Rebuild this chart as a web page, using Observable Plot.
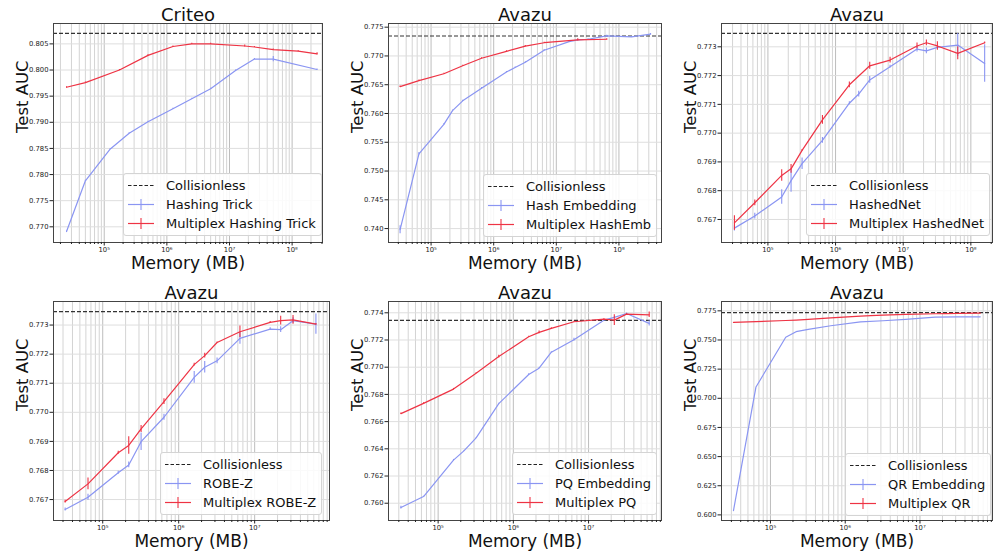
<!DOCTYPE html>
<html><head><meta charset="utf-8">
<script src="https://cdn.jsdelivr.net/npm/d3@7"></script>
<script src="https://cdn.jsdelivr.net/npm/@observablehq/plot@0.6"></script>
<style>
body{margin:0;background:#fff;font-family:"DejaVu Sans",sans-serif;}
#wrap{position:relative;width:994px;height:554px;overflow:hidden;background:#fff;}
.panel{position:absolute;}
.legend{position:absolute;background:rgba(255,255,255,0.85);border:1px solid #d4d4d4;border-radius:3px;padding:2px 5px 2px 4px;font-size:13px;color:#111;}
.row{display:flex;align-items:center;height:19px;white-space:nowrap;}
.row svg{margin-right:12px;flex:none;}
</style></head><body><div id="wrap"></div>
<script>
// ---------- DATA ----------
const titles = ["Criteo", "Avazu", "Avazu", "Avazu", "Avazu", "Avazu"];
const baseNames = ["Hashing Trick", "Hash Embedding", "HashedNet", "ROBE-Z", "PQ Embedding", "QR Embedding"];
const multiNames = ["Multiplex Hashing Trick", "Multiplex HashEmb", "Multiplex HashedNet", "Multiplex ROBE-Z", "Multiplex PQ", "Multiplex QR"];
const collisionless = [0.807, 0.77347, 0.77347, 0.77346, 0.77344, 0.77346];

// Criteo - Hashing Trick
const p1BaseX = [2.5e4, 5e4, 1.25e5, 2.5e5, 5e5, 1.25e6, 2.5e6, 5e6, 1.25e7, 2.5e7, 5e7, 2.5e8];
const p1BaseY = [0.7691, 0.7788, 0.7849, 0.7879, 0.7901, 0.7926, 0.7945, 0.7964, 0.7999, 0.8021, 0.8021, 0.8001];
const p1BaseE = [0.0001, 0.0001, 0.0001, 0.0001, 0.0001, 0.0001, 0.0001, 0.0001, 0.0001, 0.0001, 0.0005, 0.0001];
const p1MultiX = [2.5e4, 5e4, 1.75e5, 5e5, 1.25e6, 2.5e6, 5e6, 1.75e7, 2.5e7, 5e7, 1.25e8, 2.5e8];
const p1MultiY = [0.7967, 0.7976, 0.8000, 0.8028, 0.8045, 0.8050, 0.8050, 0.8046, 0.8044, 0.8039, 0.8036, 0.8031];
const p1MultiE = [0.0001, 0.0001, 0.0001, 0.0001, 0.0001, 0.0001, 0.0001, 0.0002, 0.0001, 0.0001, 0.0001, 0.0002];

// Avazu - Hash Embedding
const p2BaseX = [3.2e4, 6.4e4, 1.6e5, 2.2e5, 3.2e5, 6.4e5, 1.6e6, 2.2e6, 3.2e6, 6.4e6, 1.6e7, 2.2e7, 3.2e7, 6.4e7, 1.6e8, 3.2e8];
const p2BaseY = [0.7398, 0.7530, 0.7581, 0.7605, 0.7622, 0.7644, 0.7672, 0.7680, 0.7689, 0.7710, 0.7725, 0.7728, 0.7729, 0.7735, 0.7733, 0.7738];
const p2BaseE = [0.0007, 0.0002, 0.0001, 0.0001, 0.0001, 0.0001, 0.0001, 0.0001, 0.0001, 0.0001, 0.0001, 0.0001, 0.0001, 0.0001, 0.0001, 0.0001];
const p2MultiX = [3.2e4, 6.4e4, 1.6e5, 3.2e5, 6.4e5, 1.6e6, 3.2e6, 6.4e6, 2.2e7, 6.4e7];
const p2MultiY = [0.76466, 0.7657, 0.7669, 0.7683, 0.7696, 0.7708, 0.7717, 0.7723, 0.7728, 0.7729];
const p2MultiE = [0.0001, 0.0001, 0.0001, 0.0001, 0.0001, 0.0001, 0.0001, 0.0001, 0.0002, 0.0001];

// Avazu - HashedNet
const p3BaseX = [3.2e4, 6.4e4, 1.6e5, 2.2e5, 3.2e5, 6.4e5, 1.6e6, 2.2e6, 3.2e6, 6.4e6, 1.6e7, 2.2e7, 3.2e7, 6.4e7, 1.6e8];
const p3BaseY = [0.76670, 0.76712, 0.76778, 0.76835, 0.76894, 0.76975, 0.77104, 0.77136, 0.77185, 0.77231, 0.77292, 0.77286, 0.77298, 0.77306, 0.77242];
const p3BaseE = [0.0001, 0.0001, 0.00025, 0.0004, 0.0002, 0.0001, 0.00005, 0.0001, 0.00012, 0.00005, 0.0001, 0.0001, 0.00005, 0.0004, 0.00065];
const p3MultiX = [3.2e4, 6.4e4, 1.6e5, 2.2e5, 3.2e5, 6.4e5, 1.6e6, 3.2e6, 6.4e6, 1.6e7, 2.2e7, 3.2e7, 6.4e7, 1.6e8];
const p3MultiY = [0.76688, 0.76758, 0.76853, 0.76876, 0.76940, 0.77046, 0.77168, 0.77234, 0.77254, 0.77303, 0.77314, 0.77303, 0.77277, 0.77314];
const p3MultiE = [0.00025, 0.0001, 0.0002, 0.00015, 0.00003, 0.00015, 0.0001, 0.00012, 0.0001, 0.0001, 0.0001, 0.00015, 0.00022, 0.00003];

// Avazu - ROBE-Z
const p4BaseX = [3.2e4, 6.4e4, 1.6e5, 2.2e5, 3.2e5, 6.4e5, 1.6e6, 2.2e6, 3.2e6, 6.4e6, 1.6e7, 2.2e7, 3.2e7, 6.4e7];
const p4BaseY = [0.76666, 0.76708, 0.76792, 0.76819, 0.76899, 0.76983, 0.77120, 0.77155, 0.77177, 0.77254, 0.77286, 0.77284, 0.77315, 0.77303];
const p4BaseE = [0.00005, 0.0001, 0.00005, 0.0001, 0.0003, 0.0001, 0.0002, 0.0002, 0.0001, 0.0002, 0.00005, 0.0001, 0.0001, 0.00035];
const p4MultiX = [3.2e4, 6.4e4, 1.6e5, 2.2e5, 3.2e5, 6.4e5, 1.6e6, 2.2e6, 3.2e6, 6.4e6, 1.6e7, 2.2e7, 3.2e7, 6.4e7];
const p4MultiY = [0.76693, 0.76754, 0.76861, 0.76886, 0.76943, 0.77037, 0.77164, 0.77195, 0.77240, 0.77277, 0.77309, 0.77315, 0.77318, 0.77303];
const p4MultiE = [0.00005, 0.0002, 0.00005, 0.0003, 0.00012, 0.0001, 0.00005, 0.00008, 0.00002, 0.0002, 0.00003, 0.00015, 0.00015, 0.00002];

// Avazu - PQ Embedding
const p5BaseX = [3.2e4, 6.4e4, 1.6e5, 2.2e5, 3.2e5, 6.4e5, 1.6e6, 2.2e6, 3.2e6, 6.4e6, 1.6e7, 2.2e7, 3.2e7, 6.4e7];
const p5BaseY = [0.75968, 0.76049, 0.76317, 0.76385, 0.76480, 0.76732, 0.76946, 0.76993, 0.77110, 0.77202, 0.77346, 0.77366, 0.77395, 0.77322];
const p5BaseE = [0.0001, 0.00003, 0.00005, 0.00003, 0.00003, 0.00003, 0.00005, 0.00003, 0.00003, 0.0001, 0.00003, 0.00005, 0.00003, 0.0002];
const p5MultiX = [3.2e4, 6.4e4, 1.6e5, 3.2e5, 6.4e5, 1.6e6, 2.2e6, 3.2e6, 6.4e6, 1.6e7, 2.2e7, 3.2e7, 6.4e7];
const p5MultiY = [0.76659, 0.76734, 0.76839, 0.76956, 0.77078, 0.77224, 0.77256, 0.77285, 0.77334, 0.77354, 0.77346, 0.77390, 0.77385];
const p5MultiE = [0.00005, 0.00005, 0.00005, 0.00003, 0.0001, 0.00003, 0.0001, 0.00005, 0.00003, 0.00003, 0.0004, 0.00003, 0.0002];

// Avazu - QR Embedding
const p6BaseX = [3.2e4, 6.4e4, 1.6e5, 2.2e5, 3.2e5, 6.4e5, 1.6e6, 3.2e6, 6.4e6, 1.6e7, 3.2e7, 6.4e7];
const p6BaseY = [0.6037, 0.7097, 0.7523, 0.7571, 0.7591, 0.7622, 0.7656, 0.7665, 0.7676, 0.7696, 0.7699, 0.7699];
const p6MultiX = [3.2e4, 6.4e4, 1.6e5, 2.2e5, 3.2e5, 6.4e5, 1.6e6, 2.2e6, 3.2e6, 6.4e6, 1.6e7, 2.2e7, 3.2e7, 6.4e7];
const p6MultiY = [0.7651, 0.7658, 0.7667, 0.7671, 0.7677, 0.7690, 0.7705, 0.7709, 0.7713, 0.7720, 0.7725, 0.7726, 0.7728, 0.7730];

// y tick labels per panel
const yTicks1 = [0.770, 0.775, 0.780, 0.785, 0.790, 0.795, 0.800, 0.805];
const yTicks2 = [0.740, 0.745, 0.750, 0.755, 0.760, 0.765, 0.770, 0.775];
const yTicks3 = [0.767, 0.768, 0.769, 0.770, 0.771, 0.772, 0.773];
const yTicks4 = [0.767, 0.768, 0.769, 0.770, 0.771, 0.772, 0.773];
const yTicks5 = [0.760, 0.762, 0.764, 0.766, 0.768, 0.770, 0.772, 0.774];
const yTicks6 = [0.600, 0.625, 0.650, 0.675, 0.700, 0.725, 0.750, 0.775];
const xMajor = [1e4, 1e5, 1e6, 1e7, 1e8];

// ---------- LAYOUT ----------
const BLUE = "#8a95f2", RED = "#ee3344";
const series = (xs, ys, es) => xs.map((x, i) => ({x, y: ys[i], e: es ? es[i] : 0}));
const panels = [
  {left: 0, top: 0, w: 331, ml: 53, mr: 9, mt: 23, mb: 35, xd: [4.19, 8.485], yd: [0.7670, 0.8089], yt: yTicks1,
   base: series(p1BaseX, p1BaseY, p1BaseE), multi: series(p1MultiX, p1MultiY, p1MultiE), lg: [123, 173]},
  {left: 331, top: 0, w: 331, ml: 57, mr: 1, mt: 23, mb: 35, xd: [4.32, 8.68], yd: [0.73758, 0.77564], yt: yTicks2,
   base: series(p2BaseX, p2BaseY, p2BaseE), multi: series(p2MultiX, p2MultiY, p2MultiE), lg: [483, 174]},
  {left: 662, top: 0, w: 332, ml: 59, mr: 2, mt: 23, mb: 35, xd: [4.314, 8.32], yd: [0.7662, 0.77381], yt: yTicks3,
   base: series(p3BaseX, p3BaseY, p3BaseE), multi: series(p3MultiX, p3MultiY, p3MultiE), lg: [806, 173]},
  {left: 0, top: 277, w: 331, ml: 53, mr: 2, mt: 24, mb: 34, xd: [4.352, 7.985], yd: [0.76628, 0.77381], yt: yTicks4,
   base: series(p4BaseX, p4BaseY, p4BaseE), multi: series(p4MultiX, p4MultiY, p4MultiE), lg: [160, 451.5]},
  {left: 331, top: 277, w: 331, ml: 57, mr: 1, mt: 24, mb: 34, xd: [4.34, 7.97], yd: [0.75873, 0.77483], yt: yTicks5,
   base: series(p5BaseX, p5BaseY, p5BaseE), multi: series(p5MultiX, p5MultiY, p5MultiE), lg: [512, 452]},
  {left: 662, top: 277, w: 332, ml: 59, mr: 2, mt: 24, mb: 34, xd: [4.345, 7.97], yd: [0.5952, 0.783], yt: yTicks6,
   base: series(p6BaseX, p6BaseY), multi: series(p6MultiX, p6MultiY), lg: [845, 452.5]}
];

const SUP = {4: "⁴", 5: "⁵", 6: "⁶", 7: "⁷", 8: "⁸"};
const wrap = document.getElementById("wrap");

panels.forEach((p, i) => {
  const lo = 10 ** p.xd[0], hi = 10 ** p.xd[1];
  const minor = [];
  for (let k = 4; k <= 8; k++) for (let m = 2; m <= 9; m++) { const v = m * 10 ** k; if (v > lo && v < hi) minor.push(v); }
  const major = xMajor.filter(v => v > lo && v < hi);
  const fmt = p.yt[1] - p.yt[0] >= 0.02 ? d3.format(".3f") : d3.format(".3f");
  const chart = Plot.plot({
    width: p.w, height: 277,
    marginLeft: p.ml, marginRight: p.mr, marginTop: p.mt, marginBottom: p.mb,
    style: {fontFamily: "DejaVu Sans", background: "transparent", overflow: "visible", color: "#222"},
    x: {type: "log", domain: [lo, hi]},
    y: {domain: p.yd},
    marks: [
      Plot.ruleX(minor, {stroke: "#cfcfcf", strokeWidth: 0.9}),
      Plot.ruleX(major, {stroke: "#bdbdbd", strokeWidth: 1}),
      Plot.ruleY(p.yt, {stroke: "#dedede", strokeWidth: 1}),
      Plot.ruleY([collisionless[i]], {stroke: "#333", strokeWidth: 1.2, strokeDasharray: "4,2"}),
      Plot.line(p.base, {x: "x", y: "y", stroke: BLUE, strokeWidth: 1.2}),
      Plot.ruleX(p.base, {x: "x", y1: d => d.y - d.e, y2: d => d.y + d.e, stroke: BLUE, strokeWidth: 1.1}),
      Plot.line(p.multi, {x: "x", y: "y", stroke: RED, strokeWidth: 1.2}),
      Plot.ruleX(p.multi, {x: "x", y1: d => d.y - d.e, y2: d => d.y + d.e, stroke: RED, strokeWidth: 1.1}),
      Plot.frame({stroke: "#444", strokeWidth: 1}),
      Plot.axisY({ticks: p.yt, tickFormat: fmt, tickSize: 3.5, tickPadding: 1.5, fontSize: 6.8, label: null}),
      Plot.axisX({ticks: major, tickFormat: d => "10" + SUP[Math.round(Math.log10(d))], tickSize: 3.5, tickPadding: 1.5, fontSize: 6.8, label: null}),
      Plot.axisX({ticks: minor, tickFormat: () => "", tickSize: 2, label: null}),
      Plot.text([titles[i]], {text: d => d, frameAnchor: "top", lineAnchor: "bottom", dy: -3, fontSize: 18, fill: "#111"}),
      Plot.text(["Memory (MB)"], {text: d => d, frameAnchor: "bottom", lineAnchor: "bottom", dy: 26, fontSize: 17, fill: "#111"}),
      Plot.text(["Test AUC"], {text: d => d, frameAnchor: "left", lineAnchor: "bottom", rotate: -90, dx: -26, fontSize: 16.5, fill: "#111"})
    ]
  });
  const div = document.createElement("div");
  div.className = "panel";
  div.style.left = p.left + "px"; div.style.top = p.top + "px";
  div.appendChild(chart);
  wrap.appendChild(div);

  const lg = document.createElement("div");
  lg.className = "legend";
  lg.style.left = p.lg[0] + "px"; lg.style.top = p.lg[1] + "px";
  const sample = (kind) => kind === "dash"
    ? `<svg width="26" height="19"><line x1="0" x2="26" y1="9.5" y2="9.5" stroke="#222" stroke-width="1.2" stroke-dasharray="3.5,2"/></svg>`
    : `<svg width="26" height="19"><line x1="0" x2="26" y1="9.5" y2="9.5" stroke="${kind}" stroke-width="1.2"/><line x1="13" x2="13" y1="4" y2="15" stroke="${kind}" stroke-width="1.1"/></svg>`;
  lg.innerHTML =
    `<div class="row">${sample("dash")}<span>Collisionless</span></div>` +
    `<div class="row">${sample(BLUE)}<span>${baseNames[i]}</span></div>` +
    `<div class="row">${sample(RED)}<span>${multiNames[i]}</span></div>`;
  wrap.appendChild(lg);
});
</script></body></html>
